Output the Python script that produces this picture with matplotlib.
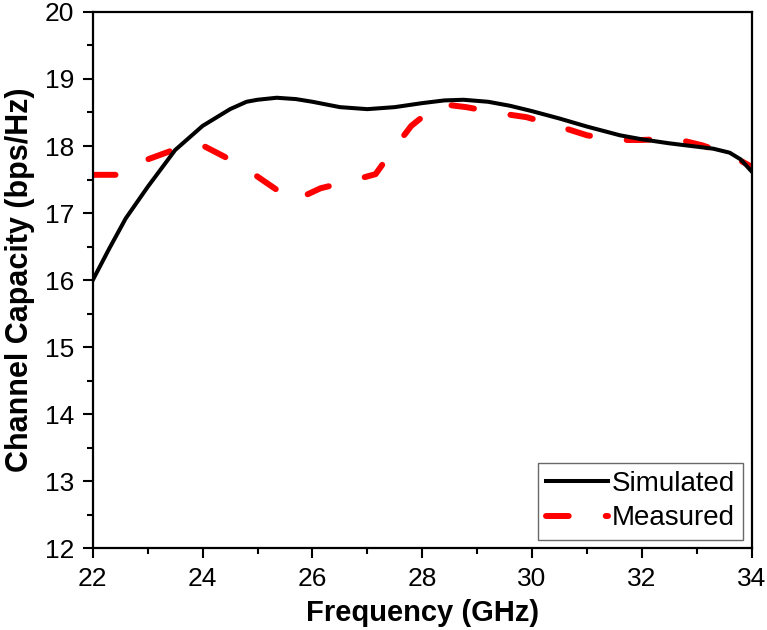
import matplotlib.pyplot as plt

plt.rcParams["font.family"] = ["Liberation Sans", "DejaVu Sans"]

freq_sim = [22.0, 22.3, 22.6, 23.0, 23.5, 24.0, 24.5, 24.8, 25.0, 25.35, 25.7,
            26.0, 26.5, 27.0, 27.5, 28.0, 28.4, 28.75, 29.2, 29.6, 30.0, 30.5,
            31.0, 31.6, 32.0, 32.5, 33.0, 33.3, 33.6, 33.8, 34.0]
cap_sim = [16.0, 16.47, 16.92, 17.39, 17.94, 18.3, 18.55, 18.66, 18.69, 18.72, 18.7,
           18.66, 18.58, 18.55, 18.58, 18.64, 18.68, 18.69, 18.66, 18.6, 18.52, 18.41,
           18.29, 18.16, 18.1, 18.04, 17.99, 17.96, 17.9, 17.8, 17.62]

freq_meas = [22.0, 22.5, 23.0, 23.5, 23.95, 24.4, 24.9, 25.2, 25.65, 26.15, 26.75,
             27.15, 27.5, 27.8, 28.3, 28.8, 29.4, 29.9, 30.5, 31.0, 31.5, 32.0,
             32.6, 33.1, 33.6, 34.0]
cap_meas = [17.57, 17.57, 17.8, 17.95, 18.03, 17.84, 17.6, 17.43, 17.18, 17.37, 17.49,
            17.58, 17.98, 18.3, 18.63, 18.58, 18.49, 18.43, 18.29, 18.16, 18.09, 18.09,
            18.11, 18.01, 17.87, 17.69]

fig = plt.figure(figsize=(7.67, 6.3), dpi=100)
ax = fig.add_axes([0.121, 0.130, 0.859, 0.851])

ax.plot(freq_sim, cap_sim, color="black", lw=2.9, label="Simulated", zorder=3)
ax.plot(freq_meas, cap_meas, color="red", lw=4.3, linestyle=(0, (3.8, 6.2)),
        dash_capstyle="round", label="Measured", zorder=2)

ax.set_xlim(22, 34)
ax.set_ylim(12, 20)
ax.set_xticks(range(22, 35, 2))
ax.set_yticks(range(12, 21))
ax.set_xticks(range(23, 34, 2), minor=True)
ax.set_yticks([12.5 + i for i in range(8)], minor=True)
ax.tick_params(which="major", direction="out", length=7.5, width=1.5, labelsize=19, pad=6)
ax.tick_params(which="minor", direction="out", length=4, width=1.5)
for sp in ax.spines.values():
    sp.set_linewidth(1.6)

ax.set_xlabel("Frequency (GHz)", fontsize=21, fontweight="bold", labelpad=6)
ax.set_ylabel("Channel Capacity (bps/Hz)", fontsize=22, fontweight="bold", labelpad=7)

leg = ax.legend(loc="lower right", fontsize=20, frameon=True, fancybox=False,
                edgecolor="#444444", handlelength=2.2, borderpad=0.3,
                labelspacing=0.3, handletextpad=0.15, borderaxespad=0.3)
leg.get_frame().set_linewidth(1.0)

fig.savefig("out.png", dpi=100)
